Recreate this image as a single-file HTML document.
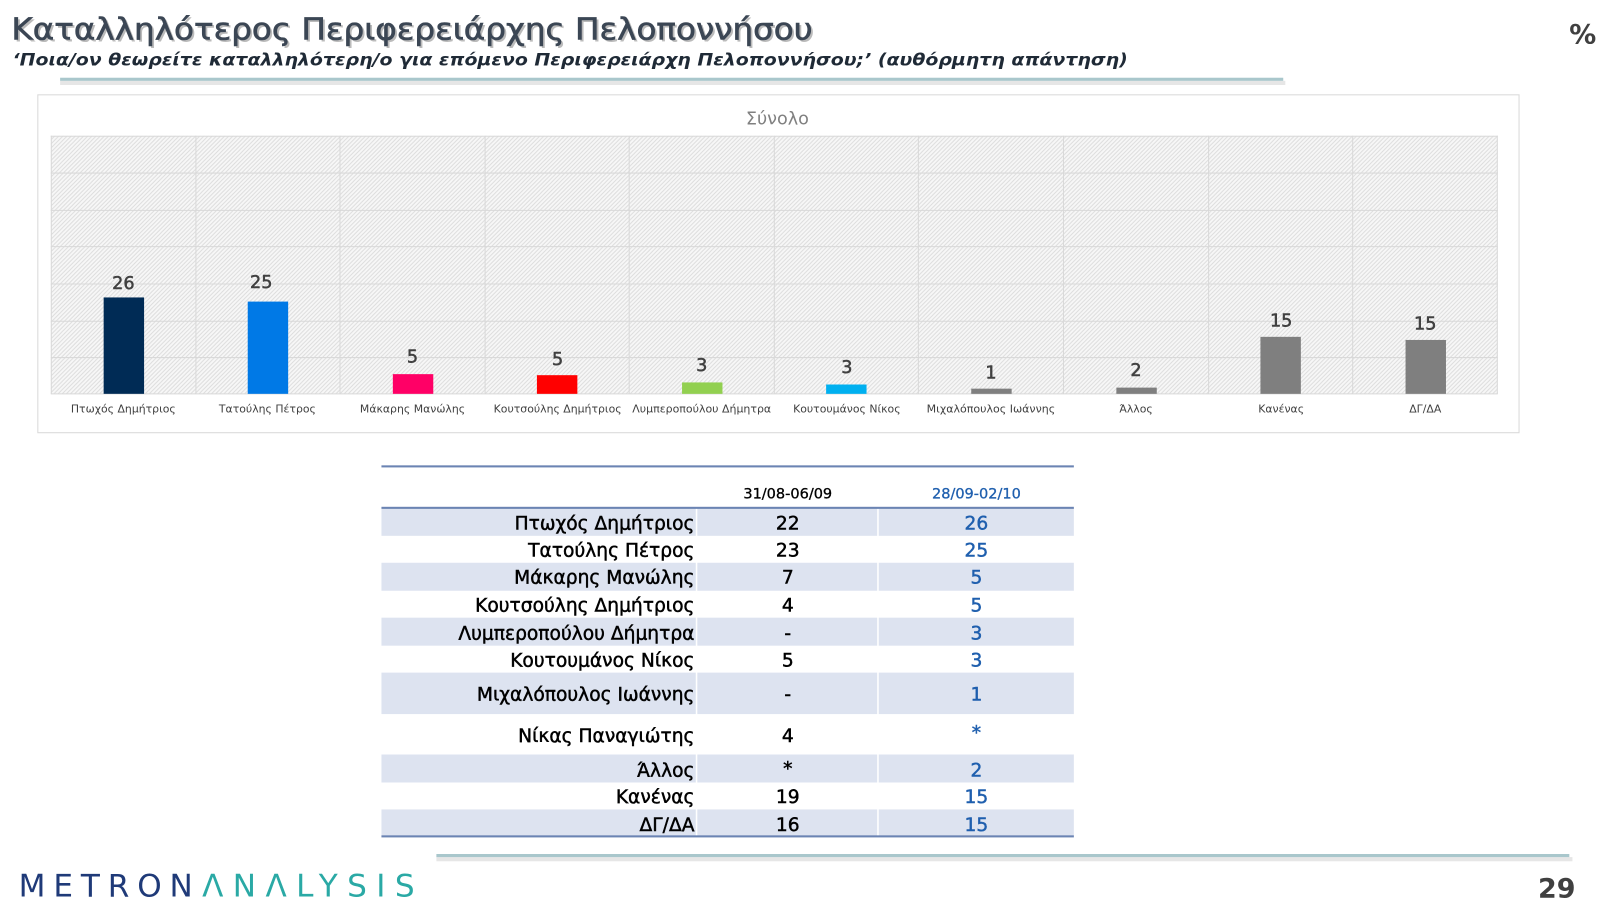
<!DOCTYPE html>
<html><head><meta charset="utf-8"><style>
html,body{margin:0;padding:0;background:#fff;width:1617px;height:911px;overflow:hidden}
svg{display:block}
text{font-family:"DejaVu Sans","Liberation Sans",sans-serif}
</style></head><body>
<svg width="1617" height="911" viewBox="0 0 1560 879" preserveAspectRatio="none" xmlns="http://www.w3.org/2000/svg">
<defs>
<pattern id="h" width="4" height="4" patternUnits="userSpaceOnUse">
<rect width="4" height="4" fill="#f7f7f7"/>
<path d="M-1,1 l2,-2 M0,4 l4,-4 M3,5 l2,-2" stroke="#dcdcdc" stroke-width="0.9"/>
</pattern>
</defs>
<text x="13" y="40" font-size="29" fill="#bbb" textLength="773" lengthAdjust="spacingAndGlyphs">Καταλληλότερος Περιφερειάρχης Πελοποννήσου</text>
<text x="11" y="38" font-size="29" fill="#3b4654" stroke="#3b4654" stroke-width="0.6" textLength="773" lengthAdjust="spacingAndGlyphs">Καταλληλότερος Περιφερειάρχης Πελοποννήσου</text>
<text x="12" y="63" font-size="16" font-style="italic" font-weight="bold" fill="#1f2a36" textLength="1076" lengthAdjust="spacingAndGlyphs">‘Ποια/ον θεωρείτε καταλληλότερη/ο για επόμενο Περιφερειάρχη Πελοποννήσου;’ (αυθόρμητη απάντηση)</text>
<text x="1514" y="42" font-size="26" font-weight="bold" fill="#404040">%</text>
<rect x="58" y="78" width="1182" height="4" fill="#e6e6e6"/>
<rect x="58" y="75" width="1180" height="3" fill="#a9c7cc"/>
<rect x="36.5" y="91.5" width="1429" height="326" fill="#fff" stroke="#d9d9d9"/>
<text x="750" y="120" font-size="17" fill="#808080" text-anchor="middle">Σύνολο</text>
<rect x="49" y="131" width="1396" height="249" fill="url(#h)"/>
<g stroke="#d9d9d9" stroke-width="1">
<line x1="49" y1="131.5" x2="1445" y2="131.5"/><line x1="49" y1="167" x2="1445" y2="167"/><line x1="49" y1="203" x2="1445" y2="203"/><line x1="49" y1="238" x2="1445" y2="238"/><line x1="49" y1="274" x2="1445" y2="274"/><line x1="49" y1="310" x2="1445" y2="310"/><line x1="49" y1="345" x2="1445" y2="345"/><line x1="49" y1="380" x2="1445" y2="380"/>
<line x1="49.5" y1="131" x2="49.5" y2="380"/><line x1="189" y1="131" x2="189" y2="380"/><line x1="328" y1="131" x2="328" y2="380"/><line x1="468" y1="131" x2="468" y2="380"/><line x1="607" y1="131" x2="607" y2="380"/><line x1="747" y1="131" x2="747" y2="380"/><line x1="886" y1="131" x2="886" y2="380"/><line x1="1026" y1="131" x2="1026" y2="380"/><line x1="1166" y1="131" x2="1166" y2="380"/><line x1="1305" y1="131" x2="1305" y2="380"/><line x1="1444.5" y1="131" x2="1444.5" y2="380"/>
</g>
<rect x="100" y="287" width="39" height="93" fill="#002b55"/>
<rect x="239" y="291" width="39" height="89" fill="#0079e6"/>
<rect x="379" y="361" width="39" height="19" fill="#ff0066"/>
<rect x="518" y="362" width="39" height="18" fill="#ff0000"/>
<rect x="658" y="369" width="39" height="11" fill="#92d050"/>
<rect x="797" y="371" width="39" height="9" fill="#00b0f0"/>
<rect x="937" y="375" width="39" height="5" fill="#7f7f7f"/>
<rect x="1077" y="374" width="39" height="6" fill="#7f7f7f"/>
<rect x="1216" y="325" width="39" height="55" fill="#7f7f7f"/>
<rect x="1356" y="328" width="39" height="52" fill="#7f7f7f"/>
<g font-size="17" fill="#404040" stroke="#404040" stroke-width="0.5" text-anchor="middle">
<text x="119" y="279">26</text><text x="252" y="278">25</text><text x="398" y="350">5</text><text x="538" y="352">5</text><text x="677" y="358">3</text><text x="817" y="360">3</text><text x="956" y="365">1</text><text x="1096" y="363">2</text><text x="1236" y="315">15</text><text x="1375" y="318">15</text>
</g>
<g font-size="10.5" fill="#404040" text-anchor="middle">
<text x="119" y="398">Πτωχός Δημήτριος</text><text x="258" y="398">Τατούλης Πέτρος</text><text x="398" y="398">Μάκαρης Μανώλης</text><text x="538" y="398">Κουτσούλης Δημήτριος</text><text x="677" y="398" textLength="134" lengthAdjust="spacingAndGlyphs">Λυμπεροπούλου Δήμητρα</text><text x="817" y="398">Κουτουμάνος Νίκος</text><text x="956" y="398" textLength="124" lengthAdjust="spacingAndGlyphs">Μιχαλόπουλος Ιωάννης</text><text x="1096" y="398">Άλλος</text><text x="1236" y="398">Κανένας</text><text x="1375" y="398">ΔΓ/ΔΑ</text>
</g>
<g fill="#dde3f0">
<rect x="368" y="490" width="668" height="27"/><rect x="368" y="543" width="668" height="27"/><rect x="368" y="596" width="668" height="27"/><rect x="368" y="649" width="668" height="40"/><rect x="368" y="728" width="668" height="27"/><rect x="368" y="781" width="668" height="26"/>
</g>
<g stroke="#fff" stroke-width="1.5"><line x1="672" y1="490" x2="672" y2="807"/><line x1="847" y1="490" x2="847" y2="807"/></g>
<rect x="368" y="449" width="668" height="2" fill="#6b84b3"/>
<rect x="368" y="489" width="668" height="2" fill="#6b84b3"/>
<rect x="368" y="806" width="668" height="2" fill="#6b84b3"/>
<text x="760" y="481" font-size="14" fill="#000" stroke="#000" stroke-width="0.3" text-anchor="middle">31/08-06/09</text>
<text x="942" y="481" font-size="14" fill="#1f5fae" stroke="#1f5fae" stroke-width="0.3" text-anchor="middle">28/09-02/10</text>
<g font-size="18" fill="#000" stroke="#000" stroke-width="0.45" text-anchor="end">
<text x="670" y="511">Πτωχός Δημήτριος</text><text x="670" y="537">Τατούλης Πέτρος</text><text x="670" y="563">Μάκαρης Μανώλης</text><text x="670" y="590">Κουτσούλης Δημήτριος</text><text x="670" y="617">Λυμπεροπούλου Δήμητρα</text><text x="670" y="643">Κουτουμάνος Νίκος</text><text x="670" y="676">Μιχαλόπουλος Ιωάννης</text><text x="670" y="716">Νίκας Παναγιώτης</text><text x="670" y="749">Άλλος</text><text x="670" y="775">Κανένας</text><text x="670" y="802">ΔΓ/ΔΑ</text>
</g>
<g font-size="18" fill="#000" stroke="#000" stroke-width="0.45" text-anchor="middle">
<text x="760" y="511">22</text><text x="760" y="537">23</text><text x="760" y="563">7</text><text x="760" y="590">4</text><text x="760" y="617">-</text><text x="760" y="643">5</text><text x="760" y="676">-</text><text x="760" y="716">4</text><text x="760" y="748">*</text><text x="760" y="775">19</text><text x="760" y="802">16</text>
</g>
<g font-size="18" fill="#1f5fae" stroke="#1f5fae" stroke-width="0.45" text-anchor="middle">
<text x="942" y="511">26</text><text x="942" y="537">25</text><text x="942" y="563">5</text><text x="942" y="590">5</text><text x="942" y="617">3</text><text x="942" y="643">3</text><text x="942" y="676">1</text><text x="942" y="713">*</text><text x="942" y="749">2</text><text x="942" y="775">15</text><text x="942" y="802">15</text>
</g>
<rect x="421" y="827" width="1096" height="4" fill="#e6e6e6"/>
<rect x="421" y="824" width="1093" height="3" fill="#a9c7cc"/>
<text x="18" y="865" font-size="30" fill="#1f3a78" textLength="168" lengthAdjust="spacing">METRON</text>
<text x="195" y="865" font-size="30" fill="#2aa9a5" textLength="205" lengthAdjust="spacing">ΛNΛLYSIS</text>
<text x="1520" y="866" font-size="26" font-weight="bold" fill="#404040" text-anchor="end">29</text>
</svg>
</body></html>
